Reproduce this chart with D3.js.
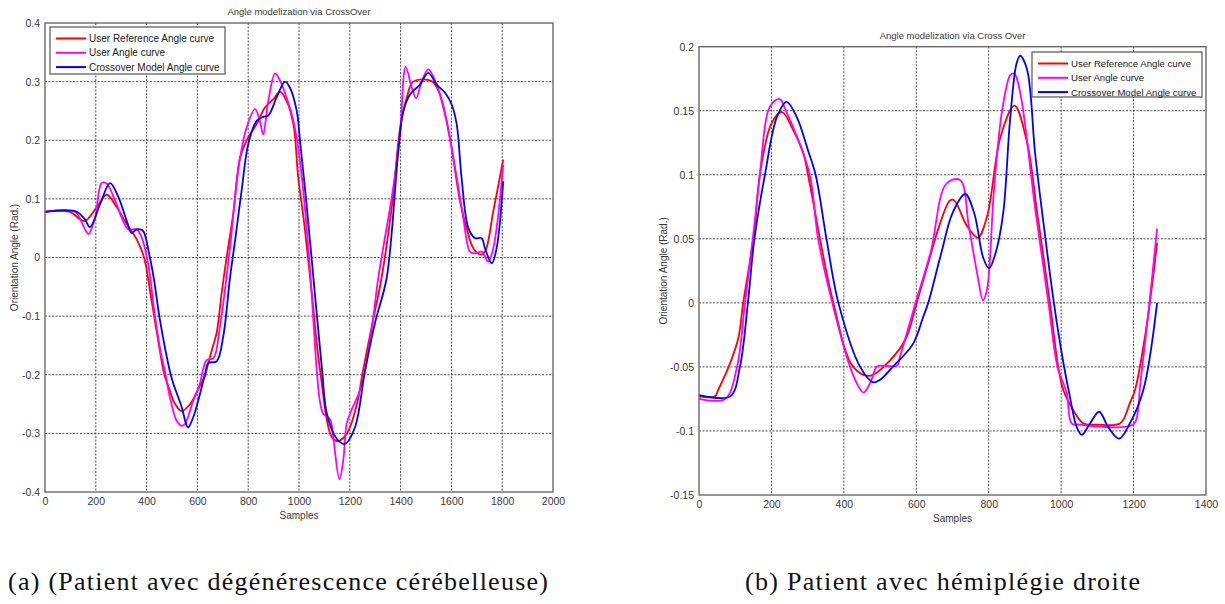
<!DOCTYPE html>
<html>
<head>
<meta charset="utf-8">
<style>
  body { margin: 0; background: #fff; }
  svg { display: block; }
  .tick-label, .axis-title, .plot-title, .legend-text {
    font-family: "Liberation Sans", Arial, sans-serif;
    fill: #3a3a3a;
  }
  .caption { font-family: "Liberation Serif", "DejaVu Serif", serif; fill: #111; }
</style>
</head>
<body>
<svg id="chart" width="1225" height="604"></svg>
<script src="https://cdn.jsdelivr.net/npm/d3@7"></script>
<script>
// ---- left panel (cerebellar degeneration) ----
var leftRefX = [0, 98, 138, 157, 204, 243, 282, 322, 361, 390, 420, 445, 470, 490, 510, 538, 571, 604, 630, 643, 662, 676, 696, 715, 741, 768, 800, 833, 866, 899, 925, 951, 978, 997, 1020, 1050, 1083, 1130, 1154, 1189, 1228, 1252, 1290, 1325, 1371, 1398, 1424, 1450, 1522, 1555, 1594, 1634, 1660, 1686, 1713, 1732, 1765, 1804];
var leftRefY = [0.078, 0.078, 0.065, 0.062, 0.086, 0.107, 0.086, 0.057, 0.031, 0.0, -0.075, -0.14, -0.2, -0.225, -0.248, -0.262, -0.25, -0.224, -0.201, -0.18, -0.15, -0.128, -0.059, 0.0, 0.074, 0.17, 0.205, 0.227, 0.256, 0.27, 0.283, 0.267, 0.227, 0.136, 0.06, -0.06, -0.193, -0.307, -0.313, -0.3, -0.25, -0.193, -0.11, -0.035, 0.107, 0.221, 0.272, 0.3, 0.301, 0.278, 0.204, 0.096, 0.05, 0.016, 0.005, 0.01, 0.079, 0.167];

var leftUserX = [0, 118, 151, 171, 197, 223, 243, 276, 308, 328, 361, 381, 407, 430, 455, 475, 492, 518, 538, 551, 584, 610, 623, 636, 663, 689, 728, 750, 768, 794, 827, 846, 859, 879, 906, 925, 951, 978, 997, 1020, 1045, 1070, 1083, 1096, 1122, 1135, 1159, 1174, 1188, 1207, 1240, 1260, 1290, 1312, 1371, 1398, 1420, 1444, 1461, 1483, 1509, 1542, 1581, 1621, 1647, 1673, 1693, 1719, 1745, 1765, 1804];
var leftUserY = [0.078, 0.078, 0.054, 0.04, 0.068, 0.127, 0.126, 0.097, 0.062, 0.048, 0.048, 0.034, -0.013, -0.09, -0.16, -0.2, -0.239, -0.278, -0.287, -0.284, -0.244, -0.215, -0.19, -0.175, -0.172, -0.117, 0.016, 0.11, 0.17, 0.222, 0.253, 0.233, 0.21, 0.267, 0.314, 0.302, 0.273, 0.233, 0.187, 0.1, -0.03, -0.193, -0.247, -0.267, -0.276, -0.308, -0.378, -0.347, -0.283, -0.26, -0.227, -0.193, -0.11, -0.035, 0.119, 0.215, 0.325, 0.29, 0.272, 0.3, 0.321, 0.295, 0.232, 0.136, 0.067, 0.01, 0.007, 0.01, -0.007, 0.016, 0.158];

var leftModelX = [0, 125, 157, 177, 217, 256, 289, 322, 341, 360, 374, 387, 413, 430, 450, 475, 495, 505, 538, 558, 564, 584, 610, 630, 643, 676, 702, 728, 748, 774, 800, 833, 859, 879, 912, 945, 964, 991, 1004, 1030, 1060, 1091, 1110, 1150, 1181, 1220, 1260, 1300, 1345, 1391, 1411, 1437, 1476, 1509, 1542, 1575, 1601, 1621, 1640, 1667, 1693, 1719, 1732, 1759, 1778, 1804];
var leftModelY = [0.078, 0.078, 0.065, 0.052, 0.091, 0.127, 0.103, 0.062, 0.042, 0.048, 0.048, 0.045, 0.0, -0.04, -0.1, -0.16, -0.2, -0.215, -0.255, -0.287, -0.29, -0.272, -0.233, -0.199, -0.18, -0.177, -0.134, -0.036, 0.028, 0.114, 0.193, 0.233, 0.24, 0.242, 0.273, 0.3, 0.29, 0.25, 0.199, 0.09, -0.05, -0.193, -0.267, -0.31, -0.318, -0.29, -0.193, -0.11, -0.035, 0.181, 0.25, 0.278, 0.295, 0.315, 0.295, 0.281, 0.261, 0.227, 0.136, 0.05, 0.033, 0.033, 0.016, -0.01, 0.016, 0.13];

// ---- right panel (right hemiplegia) ----
var rightRefX = [0, 44, 53, 86, 109, 122, 141, 155, 168, 200, 229, 260, 288, 301, 321, 334, 371, 426, 472, 527, 571, 601, 638, 661, 693, 705, 740, 770, 795, 833, 871, 906, 934, 969, 992, 1006, 1034, 1061, 1100, 1163, 1190, 1204, 1235, 1265];
var rightRefY = [-0.073, -0.073, -0.068, -0.047, -0.027, 0.0, 0.033, 0.062, 0.1, 0.14, 0.149, 0.135, 0.117, 0.1, 0.07, 0.05, 0.0, -0.05, -0.057, -0.045, -0.028, 0.0, 0.036, 0.058, 0.08, 0.08, 0.06, 0.051, 0.067, 0.13, 0.154, 0.125, 0.07, 0.0, -0.05, -0.068, -0.084, -0.094, -0.095, -0.094, -0.078, -0.068, -0.02, 0.047];

var rightUserX = [0, 72, 105, 127, 149, 168, 191, 210, 224, 240, 270, 306, 329, 368, 417, 440, 454, 472, 490, 500, 547, 555, 598, 640, 683, 721, 745, 770, 784, 795, 815, 837, 860, 871, 887, 930, 965, 990, 1015, 1029, 1050, 1199, 1213, 1217, 1240, 1265];
var rightUserY = [-0.075, -0.075, -0.05, 0.0, 0.051, 0.1, 0.15, 0.158, 0.159, 0.15, 0.13, 0.1, 0.05, 0.0, -0.05, -0.065, -0.07, -0.063, -0.05, -0.049, -0.049, -0.042, 0.0, 0.04, 0.093, 0.096, 0.06, 0.02, 0.002, 0.01, 0.09, 0.15, 0.178, 0.179, 0.164, 0.07, 0.0, -0.05, -0.07, -0.094, -0.095, -0.095, -0.082, -0.068, -0.01, 0.058];

var rightModelX = [0, 86, 113, 135, 153, 182, 215, 242, 270, 300, 322, 352, 385, 445, 481, 500, 535, 591, 619, 633, 670, 700, 735, 760, 785, 801, 820, 840, 859, 877, 887, 906, 928, 950, 980, 1005, 1024, 1043, 1057, 1080, 1105, 1130, 1160, 1190, 1227, 1265];
var rightModelY = [-0.072, -0.073, -0.05, 0.0, 0.05, 0.1, 0.145, 0.157, 0.145, 0.12, 0.1, 0.05, 0.0, -0.05, -0.062, -0.06, -0.05, -0.032, -0.011, 0.0, 0.04, 0.07, 0.085, 0.07, 0.035, 0.027, 0.04, 0.07, 0.143, 0.187, 0.193, 0.182, 0.117, 0.065, 0.0, -0.045, -0.073, -0.097, -0.103, -0.094, -0.085, -0.097, -0.106, -0.094, -0.068, 0.0];

// ---- texts ----
var legendLabels = ["User Reference Angle curve", "User Angle curve", "Crossover Model Angle curve"];
var seriesColors = ["#ff0000", "#ff00ff", "#0000ff"];
var leftXTicks = [0, 200, 400, 600, 800, 1000, 1200, 1400, 1600, 1800, 2000];
var leftYTicks = [-0.4, -0.3, -0.2, -0.1, 0, 0.1, 0.2, 0.3, 0.4];
var rightXTicks = [0, 200, 400, 600, 800, 1000, 1200, 1400];
var rightYTicks = [-0.15, -0.1, -0.05, 0, 0.05, 0.1, 0.15, 0.2];

var svg = d3.select("#chart");

function pairs(xs, ys) {
  return xs.map(function(x, i) { return [x, ys[i]]; });
}

function fmt(v) {
  if (Math.abs(v) < 1e-9) return "0";
  return String(+v.toFixed(2));
}

function drawPanel(p) {
  var g = svg.append("g");
  var x = d3.scaleLinear().domain(p.xDomain).range([p.left, p.right]);
  var y = d3.scaleLinear().domain(p.yDomain).range([p.bottom, p.top]);

  // grid
  g.append("g").selectAll("line.vg")
    .data(p.xTicks.slice(1, -1))
    .enter().append("line")
      .attr("x1", function(d) { return x(d); })
      .attr("x2", function(d) { return x(d); })
      .attr("y1", p.top).attr("y2", p.bottom)
      .attr("stroke", "#222").attr("stroke-width", 0.8)
      .attr("stroke-dasharray", "2,1.5");
  g.append("g").selectAll("line.hg")
    .data(p.yTicks.slice(1, -1))
    .enter().append("line")
      .attr("y1", function(d) { return y(d); })
      .attr("y2", function(d) { return y(d); })
      .attr("x1", p.left).attr("x2", p.right)
      .attr("stroke", "#222").attr("stroke-width", 0.8)
      .attr("stroke-dasharray", "2,1.5");

  // axes (labels only, box drawn separately)
  var xAxis = d3.axisBottom(x).tickValues(p.xTicks).tickSize(0).tickPadding(6).tickFormat(fmt);
  var yAxis = d3.axisLeft(y).tickValues(p.yTicks).tickSize(0).tickPadding(5).tickFormat(fmt);
  var gx = g.append("g").attr("transform", "translate(0," + p.bottom + ")").call(xAxis);
  var gy = g.append("g").attr("transform", "translate(" + p.left + ",0)").call(yAxis);
  [gx, gy].forEach(function(a) {
    a.select(".domain").remove();
    a.selectAll("text").attr("class", "tick-label").style("font-size", "10.5px");
  });

  // curves
  var line = d3.line()
    .x(function(d) { return x(d[0]); })
    .y(function(d) { return y(d[1]); })
    .curve(d3.curveCatmullRom.alpha(0.5));
  p.series.forEach(function(s, i) {
    g.append("path")
      .datum(s)
      .attr("fill", "none")
      .attr("stroke", seriesColors[i])
      .attr("stroke-width", 1.8)
      .attr("stroke-linejoin", "round")
      .attr("d", line);
  });

  // frame
  g.append("rect")
    .attr("x", p.left).attr("y", p.top)
    .attr("width", p.right - p.left).attr("height", p.bottom - p.top)
    .attr("fill", "none").attr("stroke", "#6a6a6a").attr("stroke-width", 1.4);

  // titles
  g.append("text").attr("class", "plot-title")
    .attr("x", (p.left + p.right) / 2).attr("y", p.top - 8)
    .attr("text-anchor", "middle").style("font-size", "9.5px")
    .text(p.title);
  g.append("text").attr("class", "axis-title")
    .attr("x", (p.left + p.right) / 2).attr("y", p.bottom + 27)
    .attr("text-anchor", "middle").style("font-size", "10px")
    .text("Samples");
  g.append("text").attr("class", "axis-title")
    .attr("transform", "translate(" + p.yLabelX + "," + ((p.top + p.bottom) / 2) + ") rotate(-90)")
    .attr("text-anchor", "middle").style("font-size", "10px")
    .text("Orientation Angle (Rad.)");

  // legend
  var lg = g.append("g").attr("transform", "translate(" + p.legend[0] + "," + p.legend[1] + ")");
  lg.append("rect")
    .attr("width", p.legend[2]).attr("height", p.legend[3])
    .attr("fill", "#fff").attr("stroke", "#555").attr("stroke-width", 1.2);
  legendLabels.forEach(function(lbl, i) {
    var ly = 11.5 + i * 14.3;
    lg.append("line")
      .attr("x1", 6).attr("x2", 36).attr("y1", ly).attr("y2", ly)
      .attr("stroke", seriesColors[i]).attr("stroke-width", 2);
    lg.append("text").attr("class", "legend-text")
      .attr("x", 39).attr("y", ly + 3.5)
      .style("font-size", p.legendFont).style("fill", "#222")
      .text(lbl);
  });
}

drawPanel({
  xDomain: [0, 2000], yDomain: [-0.4, 0.4],
  left: 45, right: 553, top: 23, bottom: 492,
  xTicks: leftXTicks, yTicks: leftYTicks,
  title: "Angle modelization via CrossOver",
  yLabelX: 18,
  legend: [50, 27, 175, 47],
  legendFont: "10px",
  series: [pairs(leftRefX, leftRefY), pairs(leftUserX, leftUserY), pairs(leftModelX, leftModelY)]
});

drawPanel({
  xDomain: [0, 1400], yDomain: [-0.15, 0.2],
  left: 699, right: 1206, top: 46.7, bottom: 495,
  xTicks: rightXTicks, yTicks: rightYTicks,
  title: "Angle modelization via Cross Over",
  yLabelX: 667,
  legend: [1032, 52, 170, 45],
  legendFont: "9.6px",
  series: [pairs(rightRefX, rightRefY), pairs(rightUserX, rightUserY), pairs(rightModelX, rightModelY)]
});

// captions
svg.append("text").attr("class", "caption")
  .attr("x", 8).attr("y", 590).style("font-size", "26px")
  .attr("textLength", 540).attr("lengthAdjust", "spacing")
  .text("(a) (Patient avec dégénérescence cérébelleuse)");
svg.append("text").attr("class", "caption")
  .attr("x", 745).attr("y", 590).style("font-size", "26px")
  .attr("textLength", 395).attr("lengthAdjust", "spacing")
  .text("(b) Patient avec hémiplégie droite");
</script>
</body>
</html>
